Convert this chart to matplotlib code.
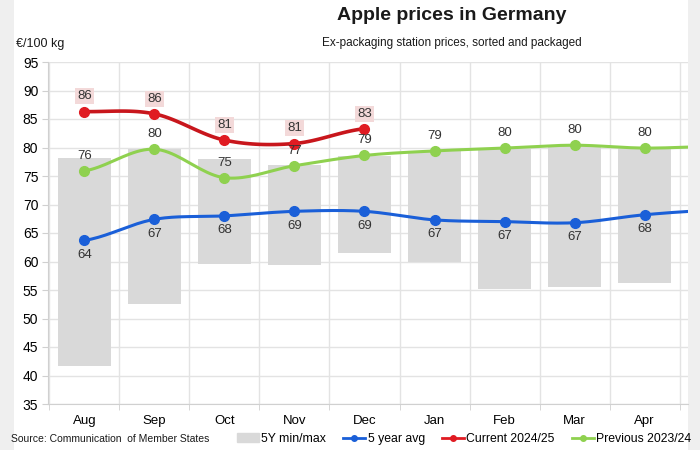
import numpy as np
import matplotlib.pyplot as plt
from matplotlib.patches import Rectangle
from matplotlib.lines import Line2D
from matplotlib.patches import Patch

plt.rcParams['font.family'] = ['Liberation Sans', 'DejaVu Sans']

months = ['Aug', 'Sep', 'Oct', 'Nov', 'Dec', 'Jan', 'Feb', 'Mar', 'Apr']
# 5Y min/max range
five_min = [41.7, 52.5, 59.6, 59.4, 61.5, 60.0, 55.2, 55.5, 56.2]
five_max = [78.2, 79.7, 77.9, 76.9, 78.5, 79.3, 79.8, 80.3, 79.9]
# lines (last value = May, partly visible at the right edge)
avg5 = [63.7, 67.4, 68.0, 68.8, 68.8, 67.3, 67.0, 66.8, 68.2, 69.0]
current = [86.3, 85.9, 81.3, 80.7, 83.3]
previous = [75.9, 79.7, 74.7, 76.8, 78.6, 79.4, 79.9, 80.4, 79.9, 80.2]

c_blue = '#1a5fd8'
c_red = '#e01b22'
c_red_line = '#c8161c'
c_green = '#8fd14f'


def smooth(y, n=20):
    # Catmull-Rom curve through the points (like Excel smoothed lines)
    y = np.asarray(y, float)
    x = np.arange(len(y), dtype=float)
    p = np.concatenate([[y[0]], y, [y[-1]]])
    xs, ys = [], []
    for i in range(len(y) - 1):
        p0, p1, p2, p3 = p[i], p[i + 1], p[i + 2], p[i + 3]
        t = np.linspace(0, 1, n, endpoint=False)
        ys.append(0.5 * (2 * p1 + (-p0 + p2) * t + (2 * p0 - 5 * p1 + 4 * p2 - p3) * t ** 2
                         + (-p0 + 3 * p1 - 3 * p2 + p3) * t ** 3))
        xs.append(x[i] + t)
    xs.append([x[-1]])
    ys.append([y[-1]])
    return np.concatenate(xs), np.concatenate(ys)


fig = plt.figure(figsize=(7, 4.5), dpi=100, facecolor='#efefef')
fig.patches.append(Rectangle((14 / 700, 0), (688 - 14) / 700, 1, transform=fig.transFigure,
                             facecolor='white', edgecolor='none', zorder=-10))
ax = fig.add_axes([48 / 700, 46 / 450, 640 / 700, 342 / 450])
ax.set_facecolor('white')

x = np.arange(len(months))
lo = np.array(five_min)
hi = np.array(five_max)
ax.bar(x, hi - lo, bottom=lo, width=0.76, color='#d9d9d9', zorder=1)

for data, col in [(avg5, c_blue), (previous, c_green)]:
    sx, sy = smooth(data)
    ax.plot(sx, sy, color=col, lw=2.2, zorder=3, solid_capstyle='round')
    ax.plot(np.arange(len(data))[:9], data[:9], 'o', color=col, ms=7, zorder=4)
sx, sy = smooth(current)
ax.plot(sx, sy, color=c_red_line, lw=2.6, zorder=5)
ax.plot(np.arange(len(current)), current, 'o', color=c_red, ms=7, zorder=6)

# data labels
for i in range(9):
    ax.text(i, avg5[i] - 1.5, f'{avg5[i]:.0f}', ha='center', va='top', fontsize=9.5, color='#333333', zorder=7)
    ax.text(i, previous[i] + 1.6, f'{previous[i]:.0f}', ha='center', va='bottom', fontsize=9.5, color='#333333', zorder=7)
for i in range(len(current)):
    ax.text(i, current[i] + 1.6, f'{current[i]:.0f}', ha='center', va='bottom', fontsize=9.5, color='#333333',
            zorder=8, bbox=dict(boxstyle='square,pad=0.15', fc='#f3d9d9', ec='none'))

ax.set_xlim(-0.52, 8.62)
ax.set_ylim(35, 95)
ax.set_yticks(np.arange(35, 96, 5))
ax.set_xticks(x)
ax.set_xticklabels(months)
ax.set_xticks(np.arange(-0.5, 9, 1), minor=True)
ax.tick_params(axis='x', which='major', length=0, pad=8, labelsize=9.5)
ax.tick_params(axis='x', which='minor', length=4, color='#d0d0d0')
ax.tick_params(axis='y', length=4, color='#d0d0d0', labelsize=10, pad=3)
ax.grid(axis='y', color='#e3e3e3', lw=1, zorder=0)
ax.grid(axis='x', which='minor', color='#e3e3e3', lw=1, zorder=0)
ax.set_axisbelow(True)
for s in ['top', 'right']:
    ax.spines[s].set_visible(False)
ax.spines['left'].set_color('#d0d0d0')
ax.spines['bottom'].set_color('#d0d0d0')

fig.text(452 / 700, 1 - 15 / 450, 'Apple prices in Germany', ha='center', va='center',
         fontsize=14, fontweight='bold', color='#1a1a1a')
fig.text(452 / 700, 1 - 43 / 450, 'Ex-packaging station prices, sorted and packaged', ha='center',
         va='center', fontsize=8.5, color='#1a1a1a')
fig.text(16 / 700, 1 - 44 / 450, '€/100 kg', ha='left', va='center', fontsize=9, color='#1a1a1a')
fig.text(11 / 700, 1 - 439 / 450, 'Source: Communication  of Member States', ha='left', va='center',
         fontsize=7.5, color='#1a1a1a')

handles = [Patch(color='#d9d9d9'),
           Line2D([], [], color=c_blue, lw=2, marker='o', ms=4),
           Line2D([], [], color=c_red, lw=2, marker='o', ms=4),
           Line2D([], [], color=c_green, lw=2, marker='o', ms=4)]
labels = ['5Y min/max', '5 year avg', 'Current 2024/25', 'Previous 2023/24']
fig.legend(handles, labels, loc='center', bbox_to_anchor=(464 / 700, 1 - 439 / 450), ncol=4,
           frameon=False, fontsize=8.8, handlelength=1.8, handletextpad=0.2, columnspacing=1.4)

fig.savefig('out.png', dpi=100, facecolor=fig.get_facecolor())
